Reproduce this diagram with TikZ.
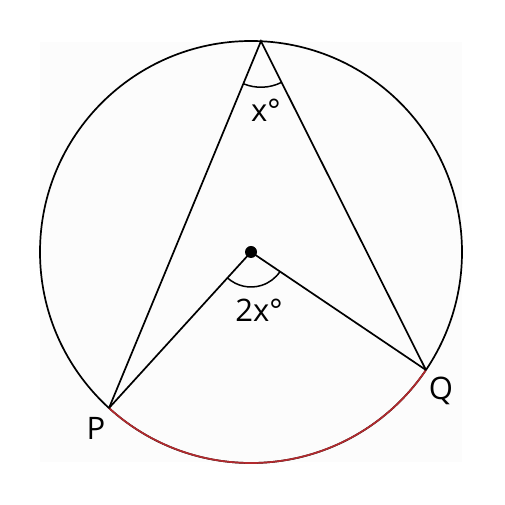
\documentclass[tikz,border=0pt]{standalone}
\usepackage{fontspec}
\setmainfont{Open Sans}
\usetikzlibrary{calc}
\definecolor{arcred}{HTML}{B22A2E}
\definecolor{bgpale}{HTML}{FCFCFC}
\tikzset{
  geo/.style={line width=1.7pt, black},
  anglemark/.style={line width=1.5pt, black},
  lbl/.style={font=\fontsize{31}{34}\selectfont, inner sep=0pt}
}
\begin{document}
\begin{tikzpicture}[x=1pt,y=1pt]
\useasboundingbox (0,0) rectangle (504,505);
\fill[bgpale] (40,43) rectangle (462,463);
\coordinate (C) at (251,253);
\coordinate (A) at ($(C)+(87.3:211)$);
\coordinate (P) at ($(C)+(227.7:211)$);
\coordinate (Q) at ($(C)+(326:211)$);
\draw[geo] (C) circle (211);
\draw[geo, arcred] (P) arc[start angle=227.7, end angle=326, radius=211];
\draw[geo] (P) -- (A) -- (Q);
\draw[geo] (P) -- (C) -- (Q);
\draw[anglemark] ($(A)+(247.5:46)$) arc[start angle=247.5, end angle=296.7, radius=46];
\draw[anglemark] ($(C)+(227.7:35)$) arc[start angle=227.7, end angle=326, radius=35];
\fill (C) circle (6);
\node[lbl] (lx) at (266,395) {x°};
\node[lbl] (l2x) at (259,195) {2x°};
\node[lbl] (lP) at (96,77) {P};
\node[lbl] (lQ) at (441,114) {Q};
\end{tikzpicture}
\end{document}
